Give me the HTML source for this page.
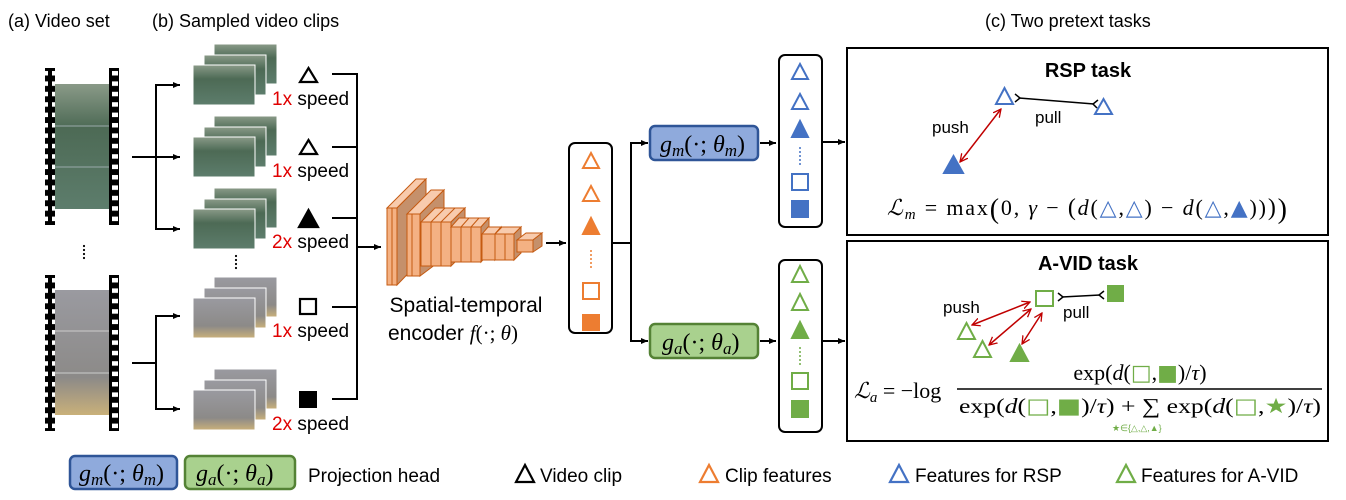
<!DOCTYPE html>
<html><head><meta charset="utf-8"><style>
body{margin:0;background:#fff;}
svg{display:block;}
text{font-family:"Liberation Sans",sans-serif;}
.m{font-family:"Liberation Serif","DejaVu Serif",serif;font-style:italic;}
.r{font-family:"Liberation Serif","DejaVu Serif",serif;}
</style></head><body>
<svg width="1346" height="500" viewBox="0 0 1346 500" xmlns="http://www.w3.org/2000/svg">
<defs>
<pattern id="holes1" x="0" y="68" width="10" height="10.4" patternUnits="userSpaceOnUse">
<rect width="10" height="10.4" fill="#000"/><rect x="2" y="3" width="6" height="4.5" fill="#fff"/>
</pattern>
<pattern id="holes2" x="0" y="275" width="10" height="10.4" patternUnits="userSpaceOnUse">
<rect width="10" height="10.4" fill="#000"/><rect x="2" y="3" width="6" height="4.5" fill="#fff"/>
</pattern>
<linearGradient id="gtennis" x1="0" y1="0" x2="0" y2="1"><stop offset="0" stop-color="#8a9a88"/><stop offset="0.35" stop-color="#4d6a55"/><stop offset="1" stop-color="#5d7d6c"/></linearGradient>
<linearGradient id="gbox" x1="0" y1="0" x2="0" y2="1"><stop offset="0" stop-color="#9a9aa0"/><stop offset="0.7" stop-color="#8c8a88"/><stop offset="1" stop-color="#c9b07a"/></linearGradient>
<marker id="ah" markerWidth="8" markerHeight="8" refX="7" refY="4" orient="auto" markerUnits="userSpaceOnUse"><path d="M0,1 L7,4 L0,7 Z" fill="#000"/></marker>
<marker id="rh" markerWidth="9" markerHeight="9" refX="8" refY="4.5" orient="auto-start-reverse" markerUnits="userSpaceOnUse"><path d="M0,0.5 L8,4.5 L0,8.5" fill="none" stroke="#c00000" stroke-width="1.3"/></marker>
</defs>

<text x="8" y="27" font-size="18">(a) Video set</text>
<text x="152" y="27" font-size="18">(b) Sampled video clips</text>
<text x="985" y="27" font-size="18">(c) Two pretext tasks</text>

<g>
<rect x="45" y="68" width="10" height="157" fill="url(#holes1)"/>
<rect x="109" y="68" width="10" height="157" fill="url(#holes1)"/>
<rect x="55" y="84" width="54" height="125" fill="url(#gtennis)"/>
<line x1="55" y1="126" x2="109" y2="126" stroke="#9aa" stroke-width="1"/>
<line x1="55" y1="167" x2="109" y2="167" stroke="#9aa" stroke-width="1"/>
<rect x="45" y="275" width="10" height="156" fill="url(#holes2)"/>
<rect x="109" y="275" width="10" height="156" fill="url(#holes2)"/>
<rect x="55" y="290" width="54" height="125" fill="url(#gbox)"/>
<line x1="55" y1="331" x2="109" y2="331" stroke="#ccc" stroke-width="1"/>
<line x1="55" y1="373" x2="109" y2="373" stroke="#ccc" stroke-width="1"/>
</g>
<g fill="#000"><circle cx="84" cy="246" r="1.1"/><circle cx="84" cy="250" r="1.1"/><circle cx="84" cy="254" r="1.1"/><circle cx="84" cy="258" r="1.1"/></g>

<g stroke="#000" stroke-width="2" fill="none">
<line x1="132" y1="157" x2="156" y2="157"/>
<polyline points="178,85 156,85 156,229 178,229"/>
<line x1="156" y1="157" x2="180" y2="157" marker-end="url(#ah)"/>
<line x1="156" y1="85" x2="180" y2="85" marker-end="url(#ah)"/>
<line x1="156" y1="229" x2="180" y2="229" marker-end="url(#ah)"/>
<line x1="132" y1="363" x2="156" y2="363"/>
<polyline points="178,316 156,316 156,409 178,409"/>
<line x1="156" y1="316" x2="180" y2="316" marker-end="url(#ah)"/>
<line x1="156" y1="409" x2="180" y2="409" marker-end="url(#ah)"/>
</g>

<g stroke="#fff" stroke-width="1">
<g>
<rect x="214" y="44" width="63" height="40" fill="url(#gtennis)"/>
<rect x="204" y="55" width="62" height="40" fill="url(#gtennis)"/>
<rect x="193" y="65" width="62" height="40" fill="url(#gtennis)"/>
</g>
<g transform="translate(0,72)">
<rect x="214" y="44" width="63" height="40" fill="url(#gtennis)"/>
<rect x="204" y="55" width="62" height="40" fill="url(#gtennis)"/>
<rect x="193" y="65" width="62" height="40" fill="url(#gtennis)"/>
</g>
<g transform="translate(0,144)">
<rect x="214" y="44" width="63" height="40" fill="url(#gtennis)"/>
<rect x="204" y="55" width="62" height="40" fill="url(#gtennis)"/>
<rect x="193" y="65" width="62" height="40" fill="url(#gtennis)"/>
</g>
<g transform="translate(0,233)">
<rect x="214" y="44" width="63" height="40" fill="url(#gbox)"/>
<rect x="204" y="55" width="62" height="40" fill="url(#gbox)"/>
<rect x="193" y="65" width="62" height="40" fill="url(#gbox)"/>
</g>
<g transform="translate(0,325)">
<rect x="214" y="44" width="63" height="40" fill="url(#gbox)"/>
<rect x="204" y="55" width="62" height="40" fill="url(#gbox)"/>
<rect x="193" y="65" width="62" height="40" fill="url(#gbox)"/>
</g>
</g>
<g fill="#000"><circle cx="236" cy="256" r="1.1"/><circle cx="236" cy="260" r="1.1"/><circle cx="236" cy="264" r="1.1"/><circle cx="236" cy="268" r="1.1"/></g>

<g stroke="#000" stroke-width="2.2">
<polygon points="300,82 317,82 308.5,68" fill="none"/>
<polygon points="300,154 317,154 308.5,140" fill="none"/>
<polygon points="299,227 318,227 308.5,210" fill="#000"/>
<rect x="300" y="299" width="16" height="15" fill="none"/>
<rect x="299" y="391" width="18" height="17" fill="#000" stroke="none"/>
</g>
<g font-size="19">
<text x="272" y="105"><tspan fill="#e00000">1x</tspan> speed</text>
<text x="272" y="177"><tspan fill="#e00000">1x</tspan> speed</text>
<text x="272" y="248"><tspan fill="#e00000">2x</tspan> speed</text>
<text x="272" y="337"><tspan fill="#e00000">1x</tspan> speed</text>
<text x="272" y="430"><tspan fill="#e00000">2x</tspan> speed</text>
</g>
<g stroke="#000" stroke-width="2" fill="none">
<line x1="332" y1="74" x2="357" y2="74"/>
<line x1="332" y1="147" x2="357" y2="147"/>
<line x1="332" y1="218" x2="357" y2="218"/>
<line x1="332" y1="307" x2="357" y2="307"/>
<line x1="332" y1="399" x2="357" y2="399"/>
<line x1="357" y1="73" x2="357" y2="400"/>
<line x1="357" y1="247" x2="381" y2="247" marker-end="url(#ah)"/>
</g>

<g stroke="#c55a11" stroke-width="1">
<polygon points="387,208 397,208 426,179 416,179" fill="#f8cbad"/>
<polygon points="397,208 426,179 426,255 397,285" fill="#c5906b"/>
<rect x="387" y="208" width="10" height="77" fill="#f4b183"/>
<line x1="392" y1="208" x2="392" y2="285"/>
<polygon points="407,214 420,214 444,190 431,190" fill="#f8cbad"/>
<polygon points="420,214 444,190 444,258 420,276" fill="#c5906b"/>
<rect x="407" y="214" width="13" height="62" fill="#f4b183"/>
<line x1="412" y1="214" x2="412" y2="276"/>
<polygon points="421,222 451,222 465,208 435,208" fill="#f8cbad"/>
<polygon points="451,222 465,208 465,252 451,266" fill="#c5906b"/>
<rect x="421" y="222" width="30" height="44" fill="#f4b183"/>
<line x1="431" y1="222" x2="431" y2="266"/><line x1="441" y1="222" x2="441" y2="266"/>
<line x1="431" y1="222" x2="445" y2="208"/><line x1="441" y1="222" x2="455" y2="208"/>
<polygon points="451,227 481,227 489,218 459,218" fill="#f8cbad"/>
<polygon points="481,227 489,218 489,253 481,262" fill="#c5906b"/>
<rect x="451" y="227" width="30" height="35" fill="#f4b183"/>
<line x1="461" y1="227" x2="461" y2="262"/><line x1="471" y1="227" x2="471" y2="262"/>
<line x1="461" y1="227" x2="469" y2="218"/><line x1="471" y1="227" x2="479" y2="218"/>
<polygon points="482,234 495,234 501,227 488,227" fill="#f8cbad"/>
<polygon points="495,234 501,227 501,253 495,260" fill="#c5906b"/>
<rect x="482" y="234" width="13" height="26" fill="#f4b183"/>
<polygon points="495,234 514,234 521,227 502,227" fill="#f8cbad"/>
<polygon points="514,234 521,227 521,253 514,260" fill="#c5906b"/>
<rect x="495" y="234" width="19" height="26" fill="#f4b183"/>
<line x1="505" y1="234" x2="505" y2="260"/>
<polygon points="517,240 533,240 542,233 526,233" fill="#f8cbad"/>
<polygon points="533,240 542,233 542,246 533,252" fill="#c5906b"/>
<rect x="517" y="240" width="16" height="12" fill="#f4b183"/>
</g>
<text x="466" y="312" font-size="21" text-anchor="middle">Spatial-temporal</text>
<text x="388" y="340" font-size="21">encoder <tspan class="m">f</tspan><tspan class="r">(·;</tspan><tspan class="m"> θ</tspan><tspan class="r">)</tspan></text>
<line x1="546" y1="243" x2="566" y2="243" stroke="#000" stroke-width="2" marker-end="url(#ah)"/>

<rect x="569" y="143" width="43" height="190" rx="6" fill="#fff" stroke="#000" stroke-width="2"/>
<g stroke="#ed7d31" stroke-width="2">
<polygon points="583,168 599,168 591,153" fill="none"/>
<polygon points="583,201 599,201 591,186" fill="none"/>
<polygon points="583,234 599,234 591,218" fill="#ed7d31"/>
<rect x="583" y="283" width="16" height="16" fill="none"/>
<rect x="582" y="314" width="18" height="17" fill="#ed7d31" stroke="none"/>
</g>
<g fill="#ed7d31"><circle cx="591" cy="251" r="1"/><circle cx="591" cy="255" r="1"/><circle cx="591" cy="259" r="1"/><circle cx="591" cy="263" r="1"/><circle cx="591" cy="267" r="1"/></g>

<g stroke="#000" stroke-width="2" fill="none">
<line x1="612" y1="243" x2="631" y2="243"/>
<polyline points="646,143 631,143 631,341 646,341"/>
<line x1="631" y1="143" x2="648" y2="143" marker-end="url(#ah)"/>
<line x1="631" y1="341" x2="648" y2="341" marker-end="url(#ah)"/>
</g>

<rect x="650" y="126" width="108" height="34" rx="5" fill="#8faadc" stroke="#2f5597" stroke-width="2.5"/>
<text x="660" y="152" font-size="24" class="m">g<tspan font-size="17" dy="4">m</tspan><tspan dy="-4" class="r" font-style="normal">(·;</tspan> θ<tspan font-size="17" dy="4">m</tspan><tspan dy="-4" class="r" font-style="normal">)</tspan></text>
<rect x="650" y="324" width="108" height="34" rx="5" fill="#a9d18e" stroke="#548235" stroke-width="2.5"/>
<text x="662" y="350" font-size="24" class="m">g<tspan font-size="17" dy="4">a</tspan><tspan dy="-4" class="r" font-style="normal">(·;</tspan> θ<tspan font-size="17" dy="4">a</tspan><tspan dy="-4" class="r" font-style="normal">)</tspan></text>
<line x1="760" y1="143" x2="776" y2="143" stroke="#000" stroke-width="2" marker-end="url(#ah)"/>
<line x1="760" y1="341" x2="776" y2="341" stroke="#000" stroke-width="2" marker-end="url(#ah)"/>

<rect x="779" y="55" width="43" height="172" rx="6" fill="#fff" stroke="#000" stroke-width="2"/>
<g stroke="#4472c4" stroke-width="2">
<polygon points="792,79 808,79 800,64" fill="none"/>
<polygon points="792,109 808,109 800,94" fill="none"/>
<polygon points="792,137 808,137 800,121" fill="#4472c4"/>
<rect x="792" y="174" width="16" height="16" fill="none"/>
<rect x="791" y="200" width="18" height="18" fill="#4472c4" stroke="none"/>
</g>
<g fill="#4472c4"><circle cx="800" cy="148" r="1"/><circle cx="800" cy="152" r="1"/><circle cx="800" cy="156" r="1"/><circle cx="800" cy="160" r="1"/><circle cx="800" cy="164" r="1"/></g>

<rect x="779" y="260" width="43" height="172" rx="6" fill="#fff" stroke="#000" stroke-width="2"/>
<g stroke="#70ad47" stroke-width="2">
<polygon points="792,282 808,282 800,266" fill="none"/>
<polygon points="792,310 808,310 800,294" fill="none"/>
<polygon points="792,338 808,338 800,322" fill="#70ad47"/>
<rect x="792" y="373" width="16" height="16" fill="none"/>
<rect x="791" y="400" width="18" height="18" fill="#70ad47" stroke="none"/>
</g>
<g fill="#70ad47"><circle cx="800" cy="348" r="1"/><circle cx="800" cy="352" r="1"/><circle cx="800" cy="356" r="1"/><circle cx="800" cy="360" r="1"/><circle cx="800" cy="364" r="1"/></g>

<line x1="822" y1="142" x2="845" y2="142" stroke="#000" stroke-width="2" marker-end="url(#ah)"/>
<line x1="822" y1="341" x2="845" y2="341" stroke="#000" stroke-width="2" marker-end="url(#ah)"/>

<rect x="847" y="48" width="481" height="187" fill="none" stroke="#000" stroke-width="2"/>
<text x="1088" y="77" font-size="20" font-weight="bold" text-anchor="middle">RSP task</text>
<g stroke="#4472c4" stroke-width="2">
<polygon points="996,104 1013,104 1004.5,88" fill="none"/>
<polygon points="1095,114 1112,114 1103.5,99" fill="none"/>
<polygon points="944,173 963,173 953.5,156" fill="#4472c4"/>
</g>
<line x1="1019" y1="98" x2="1094" y2="104" stroke="#000" stroke-width="1.5"/>
<path d="M1015,94 L1020,98 L1015,102 M1098,100 L1093,104 L1097,108" fill="none" stroke="#000" stroke-width="1.5"/>
<line x1="1001" y1="109" x2="960" y2="162" stroke="#c00000" stroke-width="1.5" marker-start="url(#rh)" marker-end="url(#rh)"/>
<text x="932" y="133" font-size="17">push</text>
<text x="1035" y="123" font-size="17">pull</text>
<text x="887" y="215" font-size="22" class="r" textLength="400" lengthAdjust="spacing"><tspan class="m">ℒ</tspan><tspan class="m" font-size="15" dy="4">m</tspan><tspan dy="-4"> = max</tspan><tspan font-size="28" dy="3">(</tspan><tspan dy="-3">0, </tspan><tspan class="m">γ</tspan> − <tspan font-size="24">(</tspan><tspan class="m">d</tspan>(<tspan fill="#4472c4" font-family="DejaVu Sans">△</tspan>,<tspan fill="#4472c4" font-family="DejaVu Sans">△</tspan>) − <tspan class="m">d</tspan>(<tspan fill="#4472c4" font-family="DejaVu Sans">△</tspan>,<tspan fill="#4472c4" font-family="DejaVu Sans">▲</tspan>))<tspan font-size="24">)</tspan><tspan font-size="28" dy="3">)</tspan></text>

<rect x="847" y="241" width="481" height="200" fill="none" stroke="#000" stroke-width="2"/>
<text x="1088" y="270" font-size="20" font-weight="bold" text-anchor="middle">A-VID task</text>
<g stroke="#70ad47" stroke-width="2">
<rect x="1036" y="291" width="17" height="15" fill="none"/>
<rect x="1107" y="285" width="17" height="17" fill="#70ad47" stroke="none"/>
<polygon points="958,339 975,339 966.5,323" fill="none"/>
<polygon points="974,357 991,357 982.5,341" fill="none"/>
<polygon points="1011,361 1028,361 1019.5,345" fill="#70ad47"/>
</g>
<line x1="1062" y1="297" x2="1100" y2="295" stroke="#000" stroke-width="1.5"/>
<path d="M1058,293 L1063,297 L1058,301 M1104,291 L1099,295 L1104,299" fill="none" stroke="#000" stroke-width="1.5"/>
<line x1="1030" y1="302" x2="972" y2="325" stroke="#c00000" stroke-width="1.5" marker-start="url(#rh)" marker-end="url(#rh)"/>
<line x1="1031" y1="309" x2="989" y2="345" stroke="#c00000" stroke-width="1.5" marker-start="url(#rh)" marker-end="url(#rh)"/>
<line x1="1042" y1="313" x2="1022" y2="344" stroke="#c00000" stroke-width="1.5" marker-start="url(#rh)" marker-end="url(#rh)"/>
<text x="943" y="313" font-size="17">push</text>
<text x="1063" y="318" font-size="17">pull</text>
<text x="854" y="398" font-size="22" class="r"><tspan class="m">ℒ</tspan><tspan class="m" font-size="15" dy="4">a</tspan><tspan dy="-4"> = −log</tspan></text>
<line x1="957" y1="389" x2="1322" y2="389" stroke="#000" stroke-width="1.5"/>
<text x="1140" y="380" font-size="22" class="r" text-anchor="middle">exp(<tspan class="m">d</tspan>(<tspan fill="#70ad47" font-family="DejaVu Sans">□</tspan>,<tspan fill="#70ad47" font-family="DejaVu Sans">■</tspan>)/<tspan class="m">τ</tspan>)</text>
<text x="1140" y="413" font-size="21" class="r" text-anchor="middle" textLength="362" lengthAdjust="spacingAndGlyphs">exp(<tspan class="m">d</tspan>(<tspan fill="#70ad47" font-family="DejaVu Sans">□</tspan>,<tspan fill="#70ad47" font-family="DejaVu Sans">■</tspan>)/<tspan class="m">τ</tspan>) + ∑ exp(<tspan class="m">d</tspan>(<tspan fill="#70ad47" font-family="DejaVu Sans">□</tspan>,<tspan fill="#70ad47" font-family="DejaVu Sans">★</tspan>)/<tspan class="m">τ</tspan>)</text>
<text x="1112" y="431" font-size="9" fill="#70ad47" font-family="DejaVu Sans">★∈{△,△,▲}</text>

<rect x="70" y="456" width="107" height="33" rx="5" fill="#8faadc" stroke="#2f5597" stroke-width="2.5"/>
<text x="79" y="481" font-size="24" class="m">g<tspan font-size="17" dy="4">m</tspan><tspan dy="-4" class="r" font-style="normal">(·;</tspan> θ<tspan font-size="17" dy="4">m</tspan><tspan dy="-4" class="r" font-style="normal">)</tspan></text>
<rect x="185" y="456" width="110" height="33" rx="5" fill="#a9d18e" stroke="#548235" stroke-width="2.5"/>
<text x="196" y="481" font-size="24" class="m">g<tspan font-size="17" dy="4">a</tspan><tspan dy="-4" class="r" font-style="normal">(·;</tspan> θ<tspan font-size="17" dy="4">a</tspan><tspan dy="-4" class="r" font-style="normal">)</tspan></text>
<g font-size="19">
<text x="308" y="482">Projection head</text>
<polygon points="516,482 534,482 525,465" fill="none" stroke="#000" stroke-width="2.2"/>
<text x="540" y="482">Video clip</text>
<polygon points="700,482 718,482 709,465" fill="none" stroke="#ed7d31" stroke-width="2.2"/>
<text x="725" y="482">Clip features</text>
<polygon points="890,482 908,482 899,465" fill="none" stroke="#4472c4" stroke-width="2.2"/>
<text x="915" y="482">Features for RSP</text>
<polygon points="1117,482 1135,482 1126,465" fill="none" stroke="#70ad47" stroke-width="2.2"/>
<text x="1141" y="482">Features for A-VID</text>
</g>
</svg>
</body></html>
